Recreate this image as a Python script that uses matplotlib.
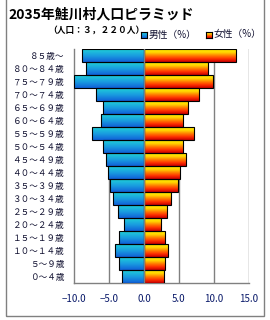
import numpy as np
import matplotlib
matplotlib.use("Agg")
import matplotlib.pyplot as plt
from matplotlib.colors import LinearSegmentedColormap
from matplotlib.patches import Rectangle

plt.rcParams['font.family'] = ['Noto Sans CJK JP', 'DejaVu Sans']

# ---- data (bottom to top) ----
age_labels = ["０〜４歳", "５〜９歳", "１０〜１４歳", "１５〜１９歳", "２０〜２４歳",
              "２５〜２９歳", "３０〜３４歳", "３５〜３９歳", "４０〜４４歳", "４５〜４９歳",
              "５０〜５４歳", "５５〜５９歳", "６０〜６４歳", "６５〜６９歳", "７０〜７４歳",
              "７５〜７９歳", "８０〜８４歳", "８５歳〜"]
male_pct = [3.2, 3.6, 4.1, 3.6, 2.8, 3.7, 4.5, 4.9, 5.2, 5.5,
            5.8, 7.4, 6.1, 5.9, 6.9, 10.0, 8.3, 8.8]
female_pct = [2.8, 3.0, 3.4, 3.0, 2.4, 3.3, 3.9, 4.9, 5.2, 6.0,
              5.5, 7.2, 5.6, 6.3, 7.8, 9.8, 9.1, 13.2]
x_ticks = [-10.0, -5.0, 0.0, 5.0, 10.0, 15.0]
title = "2035年鮭川村人口ピラミッド"
subtitle = "（人口：３，２２０人）"
legend_labels = ["男性（%）", "女性（%）"]

W, H = 270, 320
fig = plt.figure(figsize=(W / 100, H / 100), dpi=100)
fig.patch.set_facecolor("white")

ax = fig.add_axes([74 / W, 1 - 283 / H, (249 - 74) / W, (283 - 49) / H])

male_cmap = LinearSegmentedColormap.from_list("m", ["#1060d8", "#1a9ee0", "#20d0d8"])
female_cmap = LinearSegmentedColormap.from_list("f", ["#c80000", "#ff3000", "#ff8000", "#ffd800", "#ffe800"])

y = np.arange(len(age_labels))
neg_male = [-v for v in male_pct]
bm = ax.barh(y, neg_male, height=0.94, facecolor="none", edgecolor="black", linewidth=0.8, zorder=4)
bf = ax.barh(y, female_pct, height=0.94, facecolor="none", edgecolor="black", linewidth=0.8, zorder=4)

grad = np.linspace(0, 1, 64).reshape(-1, 1)
for container, cmap in ((bm, male_cmap), (bf, female_cmap)):
    for p in container.patches:
        x0, w = p.get_x(), p.get_width()
        y0, h = p.get_y(), p.get_height()
        ax.imshow(grad, cmap=cmap, extent=[min(x0, x0 + w), max(x0, x0 + w), y0, y0 + h],
                  origin="lower", aspect="auto", zorder=3, interpolation="bilinear")

ax.set_xlim(-10, 15)
ax.set_ylim(-0.5, len(age_labels) - 0.5)
ax.set_aspect("auto")

for xv in x_ticks:
    if xv != -10.0:
        ax.axvline(xv, color="#808080", linewidth=1.0, zorder=1 if xv != 0 else 5)

ax.set_xticks(x_ticks)
ax.set_xticklabels(["−%.1f" % abs(v) if v < 0 else "%.1f" % v for v in x_ticks])
ax.set_yticks(y)
ax.set_yticklabels(age_labels)
ax.tick_params(axis="x", length=0, pad=8, labelsize=7, labelcolor="#0a1a6a")
ax.tick_params(axis="y", length=0, pad=7, labelsize=6.2, labelcolor="#101030")
for s in ("top", "right"):
    ax.spines[s].set_visible(False)
for s in ("left", "bottom"):
    ax.spines[s].set_color("#808080")
    ax.spines[s].set_linewidth(1.0)

# titles
fig.text(8 / W, 1 - 14.5 / H, title, fontsize=10, fontweight="bold", ha="left", va="center", color="black")
fig.text(48 / W, 1 - 30 / H, subtitle, fontsize=6.3, fontweight="bold", ha="left", va="center", color="black")

# legend
for (sx, cmap, lbl, tx) in ((141, male_cmap, legend_labels[0], 149), (206, female_cmap, legend_labels[1], 214)):
    lax = fig.add_axes([sx / W, 1 - 38 / H, 6 / W, 6 / H])
    lax.imshow(grad, cmap=cmap, origin="lower", aspect="auto", extent=[0, 1, 0, 1])
    lax.set_xticks([]); lax.set_yticks([])
    for s in lax.spines.values():
        s.set_color("black"); s.set_linewidth(0.8)
    fig.text(tx / W, 1 - 34.5 / H, lbl, fontsize=7, ha="left", va="center", color="#101030")

# outer frame
fig.patches.append(Rectangle((6 / W, 4 / H), (264 - 6) / W, 1.2, transform=fig.transFigure,
                             fill=False, edgecolor="#808080", linewidth=1.0, clip_on=False))

fig.savefig("out.png", dpi=100, facecolor="white")
